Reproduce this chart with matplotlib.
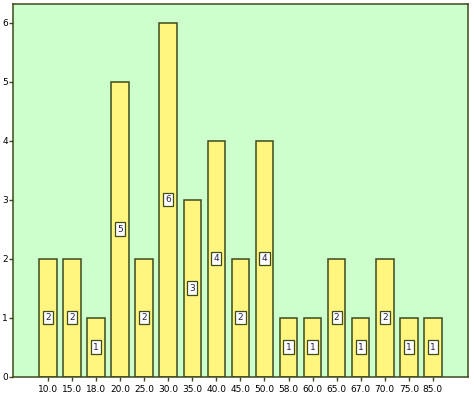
import matplotlib
matplotlib.use('Agg')
import matplotlib.pyplot as plt
import numpy as np

categories = ['10.0', '15.0', '18.0', '20.0', '25.0', '30.0', '35.0', '40.0', '45.0',
              '50.0', '58.0', '60.0', '65.0', '67.0', '70.0', '75.0', '85.0']
counts = [2, 2, 1, 5, 2, 6, 3, 4, 2, 4, 1, 1, 2, 1, 2, 1, 1]
yticks = [0, 1, 2, 3, 4, 5, 6]

edge = '#3f4a1e'
fig = plt.figure(figsize=(4.74, 3.97), dpi=100)
ax = fig.add_axes([13/474, 1 - 376.7/397, 455/474, 372.7/397])
ax.set_facecolor('#ccffcc')

x = np.arange(len(categories))
ax.bar(x, counts, width=0.73, color='#fff57f', edgecolor=edge, linewidth=1.1, zorder=2)

for xi, c in zip(x, counts):
    ax.text(xi, c / 2, str(c), ha='center', va='center', fontsize=6.5, color='#222244',
            bbox=dict(boxstyle='square,pad=0.25', fc='white', ec=edge, lw=0.9), zorder=3)

ax.set_xlim(-1.455, 17.46)
ax.set_ylim(0, 6.317)
ax.set_xticks(x)
ax.set_xticklabels(categories, fontsize=6.5)
ax.set_yticks(yticks)
ax.set_yticklabels([str(t) for t in yticks], fontsize=6.5)
ax.tick_params(axis='both', length=3, width=1, color=edge)
ax.tick_params(axis='y', pad=0.8)
ax.tick_params(axis='x', pad=3)
for s in ax.spines.values():
    s.set_color(edge)
    s.set_linewidth(1.1)

fig.savefig('out.png', dpi=100)
